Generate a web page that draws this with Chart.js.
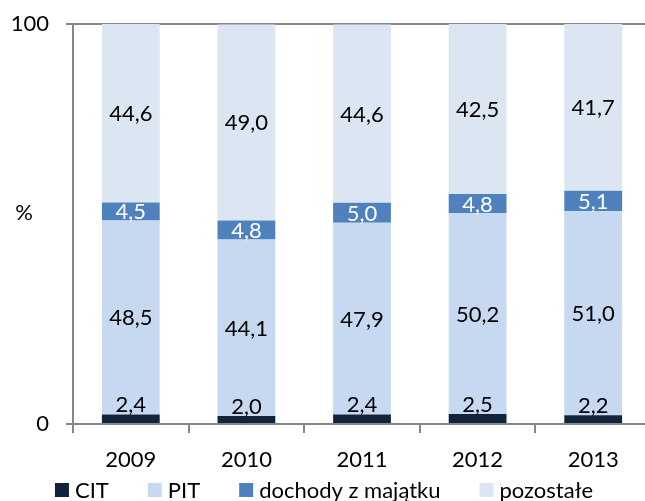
<!DOCTYPE html>
<html>
<head>
<meta charset="utf-8">
<script src="https://cdn.jsdelivr.net/npm/chart.js@4"></script>
<style>
  html, body { margin: 0; padding: 0; background: #fff; overflow: hidden; }
  #wrap { width: 651px; height: 501px; }
</style>
</head>
<body>
<div id="wrap"><canvas id="chart"></canvas></div>
<script>
const years = ['2009', '2010', '2011', '2012', '2013'];
const cit = [2.4, 2.0, 2.4, 2.5, 2.2];
const pit = [48.5, 44.1, 47.9, 50.2, 51.0];
const dochody = [4.5, 4.8, 5.0, 4.8, 5.1];
const pozostale = [44.6, 49.0, 44.6, 42.5, 41.7];
const yTicks = [0, 100];

const FONT = 'Lato, "Open Sans", sans-serif';

// values written inside each segment, comma as decimal separator
const segmentLabels = {
    id: 'segmentLabels',
    afterDatasetsDraw(chart) {
        const ctx = chart.ctx;
        ctx.save();
        ctx.font = '22px ' + FONT;
        ctx.textAlign = 'center';
        ctx.textBaseline = 'middle';
        chart.data.datasets.forEach((ds, i) => {
            chart.getDatasetMeta(i).data.forEach((bar, j) => {
                const txt = ds.data[j].toFixed(1).replace('.', ',');
                let y = (bar.y + bar.base) / 2;
                if (i === 0) y = bar.y - 10; // CIT sits just above its thin bar
                ctx.fillStyle = ds.labelColor;
                ctx.fillText(txt, bar.x, y + 1);
            });
        });
        // unit next to the value axis
        ctx.fillStyle = '#000';
        ctx.fillText('%', 24, 213);
        ctx.restore();
    }
};

// legend row along the bottom edge
const bottomLegend = {
    id: 'bottomLegend',
    afterDraw(chart) {
        const ctx = chart.ctx;
        const box = 14, gap = 6, spacing = 39, cy = 490;
        ctx.save();
        ctx.font = '22px ' + FONT;
        ctx.textBaseline = 'middle';
        ctx.textAlign = 'left';
        const widths = chart.data.datasets.map(ds => box + gap + ctx.measureText(ds.label).width);
        const total = widths.reduce((a, b) => a + b, 0) + spacing * (widths.length - 1);
        let x = 324 - total / 2;
        chart.data.datasets.forEach((ds, i) => {
            ctx.fillStyle = ds.backgroundColor;
            ctx.fillRect(x, cy - box / 2, box, box);
            ctx.fillStyle = '#000';
            ctx.fillText(ds.label, x + box + gap, cy + 1);
            x += widths[i] + spacing;
        });
        ctx.restore();
    }
};

new Chart(document.getElementById('chart'), {
    type: 'bar',
    data: {
        labels: years,
        datasets: [
            { label: 'CIT', data: cit, backgroundColor: '#10243E', labelColor: '#000' },
            { label: 'PIT', data: pit, backgroundColor: '#C6D9F1', labelColor: '#000' },
            { label: 'dochody z majątku', data: dochody, backgroundColor: '#4F81BD', labelColor: '#fff' },
            { label: 'pozostałe', data: pozostale, backgroundColor: '#DCE6F2', labelColor: '#000' }
        ]
    },
    options: {
        responsive: true,
        maintainAspectRatio: false,
        animation: false,
        datasets: { bar: { categoryPercentage: 1, barPercentage: 0.5, borderWidth: 0 } },
        layout: { padding: { top: 24, right: 0, left: 0, bottom: 25 } },
        plugins: {
            legend: { display: false },
            tooltip: { enabled: false }
        },
        scales: {
            x: {
                stacked: true,
                afterFit: scale => { scale.height = 52; },
                grid: { drawOnChartArea: false, drawTicks: true, tickLength: 9, color: '#868686', lineWidth: 2, offset: true },
                border: { color: '#868686', width: 2 },
                ticks: { color: '#000', font: { family: FONT, size: 22 }, padding: 14 }
            },
            y: {
                stacked: true,
                min: 0,
                max: 100,
                afterBuildTicks: scale => { scale.ticks = yTicks.map(v => ({ value: v })); },
                afterFit: scale => {
                    scale.width = 73;
                    scale.paddingTop = 0;
                    scale.paddingBottom = 0;
                },
                grid: { color: '#868686', lineWidth: 2, tickLength: 7 },
                border: { color: '#868686', width: 2 },
                ticks: { color: '#000', font: { family: FONT, size: 22 }, padding: 17 }
            }
        }
    },
    plugins: [segmentLabels, bottomLegend]
});
</script>
</body>
</html>
